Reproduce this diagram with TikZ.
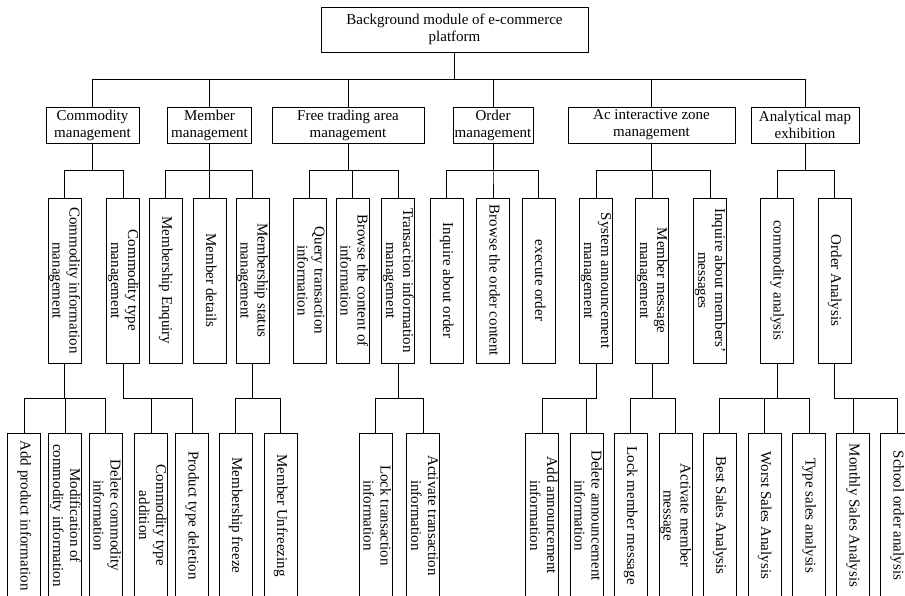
\documentclass[tikz,border=0pt]{standalone}
\usepackage{fontspec}
\setmainfont{Liberation Serif}
\usepackage{graphicx}
\newcommand{\vtext}[1]{\makebox[0pt]{\rotatebox{-90}{\begin{tabular}{@{}c@{}}#1\end{tabular}}}}

\begin{document}
\begin{tikzpicture}[x=1pt, y=-1pt, line width=0.9pt,
	box/.style={draw, inner sep=0pt, align=center, font=\fontsize{15}{17}\selectfont},
	vbox/.style={draw, inner sep=0pt, minimum width=33pt, minimum height=165pt, font=\fontsize{15}{17}\selectfont}]
	\useasboundingbox (0,0) rectangle (905,596);
	\clip (0,0) rectangle (905,596);

	\node[box, minimum width=267pt, minimum height=45pt] (root) at (454.5,29.5) {Background module of e-commerce\\platform};

	% first level
	\node[box, minimum width=93pt, minimum height=36pt] (cm) at (92.5,125) {Commodity\\management};
	\node[box, minimum width=84pt, minimum height=36pt] (mm) at (209.5,125) {Member\\management};
	\node[box, minimum width=152pt, minimum height=36pt] (fm) at (348,125) {Free trading area\\management};
	\node[box, minimum width=80pt, minimum height=36pt] (om) at (493,125) {Order\\management};
	\node[box, minimum width=167pt, minimum height=36pt] (am) at (651.5,125) {Ac interactive zone\\management};
	\node[box, minimum width=108pt, minimum height=36pt] (an) at (805,125) {Analytical map\\exhibition};

	% second level
	\node[vbox] (ci) at (64.5,280.5) {\vtext{Commodity information\\management}};
	\node[vbox] (ct) at (123,280.5) {\vtext{Commodity type\\management}};
	\node[vbox] (me) at (165.5,280.5) {\vtext{Membership Enquiry}};
	\node[vbox] (md) at (209.5,280.5) {\vtext{Member details}};
	\node[vbox] (ms) at (252.5,280.5) {\vtext{Membership status\\management}};
	\node[vbox] (tq) at (309.5,280.5) {\vtext{Query transaction\\information}};
	\node[vbox] (tb) at (352.5,280.5) {\vtext{Browse the content of\\information}};
	\node[vbox] (tm) at (398,280.5) {\vtext{Transaction information\\management}};
	\node[vbox] (oi) at (446.5,280.5) {\vtext{Inquire about order}};
	\node[vbox] (ob) at (493,280.5) {\vtext{Browse the order content}};
	\node[vbox] (oe) at (538.5,280.5) {\vtext{execute order}};
	\node[vbox] (as) at (596,280.5) {\vtext{System announcement\\management}};
	\node[vbox] (amm) at (652,280.5) {\vtext{Member message\\management}};
	\node[vbox] (aq) at (710,280.5) {\vtext{Inquire about members'\\messages}};
	\node[vbox] (ca) at (777,280.5) {\vtext{commodity analysis}};
	\node[vbox] (oa) at (834.5,280.5) {\vtext{Order Analysis}};

	% third level
	\node[vbox] (ap) at (24,515.5) {\vtext{Add product information}};
	\node[vbox] (mo) at (65,515.5) {\vtext{Modification of\\commodity information}};
	\node[vbox] (dc) at (105.5,515.5) {\vtext{Delete commodity\\information}};
	\node[vbox] (ta) at (151,515.5) {\vtext{Commodity type\\addition}};
	\node[vbox] (pd) at (192,515.5) {\vtext{Product type deletion}};
	\node[vbox] (mf) at (235.5,515.5) {\vtext{Membership freeze}};
	\node[vbox] (mu) at (280.5,515.5) {\vtext{Member Unfreezing}};
	\node[vbox] (lt) at (375.5,515.5) {\vtext{Lock transaction\\information}};
	\node[vbox] (actr) at (423,515.5) {\vtext{Activate transaction\\information}};
	\node[vbox] (aa) at (542,515.5) {\vtext{Add announcement\\information}};
	\node[vbox] (da) at (586.5,515.5) {\vtext{Delete announcement\\information}};
	\node[vbox] (lm) at (630.5,515.5) {\vtext{Lock member message}};
	\node[vbox] (acm) at (675.5,515.5) {\vtext{Activate member\\message}};
	\node[vbox] (bs) at (719.5,515.5) {\vtext{Best Sales Analysis}};
	\node[vbox] (ws) at (764.5,515.5) {\vtext{Worst Sales Analysis}};
	\node[vbox] (ts) at (809,515.5) {\vtext{Type sales analysis}};
	\node[vbox] (msa) at (853,515.5) {\vtext{Monthly Sales Analysis}};
	\node[vbox] (so) at (897,515.5) {\vtext{School order analysis}};

	\foreach \to in {cm,mm,fm,om,am,an}
		\draw (root.south) -- ++(0,27) -| (\to.north);

	\foreach \from / \to in {cm/ci,cm/ct,mm/me,mm/md,mm/ms,fm/tq,fm/tb,fm/tm,om/oi,om/ob,om/oe,am/as,am/amm,am/aq,an/ca,an/oa}
		\draw (\from.south) -- ++(0,27) -| (\to.north);

	\foreach \from / \to in {ci/ap,ci/mo,ci/dc,ct/ta,ct/pd,ms/mf,ms/mu,tm/lt,tm/actr,as/aa,as/da,amm/lm,amm/acm,ca/bs,ca/ws,ca/ts,oa/msa,oa/so}
		\draw (\from.south) -- ++(0,34.5) -| (\to.north);
\end{tikzpicture}
\end{document}
